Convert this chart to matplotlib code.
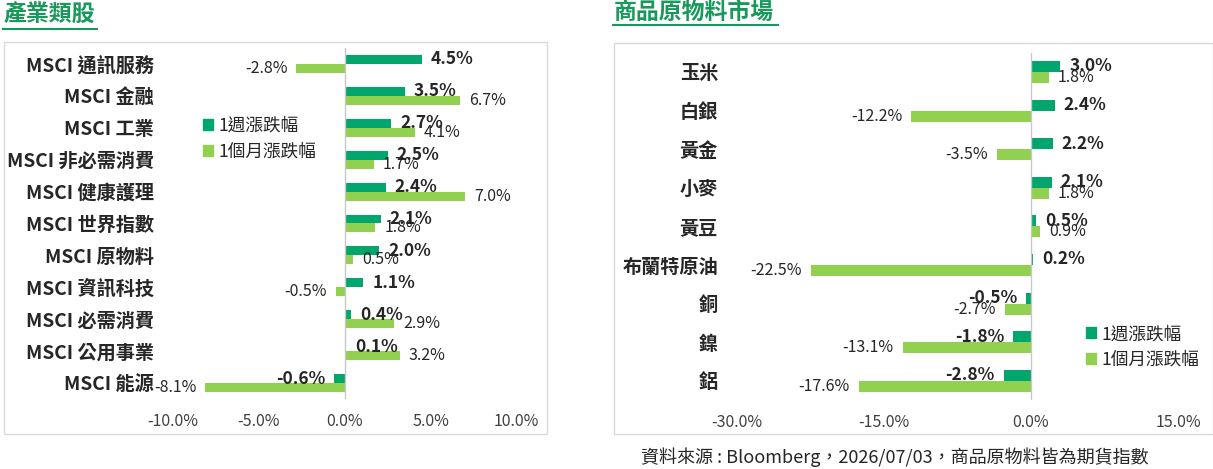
import numpy as np
import matplotlib
matplotlib.use('Agg')
import matplotlib.pyplot as plt
from matplotlib.patches import Rectangle, Patch
from matplotlib.lines import Line2D

plt.rcParams['font.family'] = ['Noto Sans CJK TC', 'DejaVu Sans']

# Data - industry sectors
sectors = ['MSCI 通訊服務', 'MSCI 金融', 'MSCI 工業', 'MSCI 非必需消費', 'MSCI 健康護理',
           'MSCI 世界指數', 'MSCI 原物料', 'MSCI 資訊科技', 'MSCI 必需消費',
           'MSCI 公用事業', 'MSCI 能源']
sector_week = [4.5, 3.5, 2.7, 2.5, 2.4, 2.1, 2.0, 1.1, 0.4, 0.1, -0.6]
sector_month = [-2.8, 6.7, 4.1, 1.7, 7.0, 1.8, 0.5, -0.5, 2.9, 3.2, -8.1]
sector_ticks = [-10, -5, 0, 5, 10]

# Data - commodities
commods = ['玉米', '白銀', '黃金', '小麥', '黃豆', '布蘭特原油', '銅', '鎳', '鋁']
commod_week = [3.0, 2.4, 2.2, 2.1, 0.5, 0.2, -0.5, -1.8, -2.8]
commod_month = [1.8, -12.2, -3.5, 1.8, 0.9, -22.5, -2.7, -13.1, -17.6]
commod_ticks = [-30, -15, 0, 15]

series_names = ['1週漲跌幅', '1個月漲跌幅']
dark_green = '#00A66B'
light_green = '#92D050'
title_green = '#17995B'
text_dark = '#262626'

W, H = 1213, 469
fig = plt.figure(figsize=(W / 100, H / 100), dpi=100)


def px_rect(x0, y0, x1, y1):
    return [x0 / W, 1 - y1 / H, (x1 - x0) / W, (y1 - y0) / H]


def draw_panel(rect, cats, week, month, ticks, xlim, bar_h, ypad):
    ax = fig.add_axes(rect)
    y = np.arange(len(cats))
    ax.barh(y - bar_h / 2, week, height=bar_h, color=dark_green, label=series_names[0])
    ax.barh(y + bar_h / 2, month, height=bar_h, color=light_green, label=series_names[1])
    ax.axvline(0, color='#C8C8C8', lw=1, zorder=3)
    gap = 6.5
    for yy, v in zip(y, week):
        off = gap if v >= 0 else -gap
        ax.annotate(f'{v:.1f}%', xy=(v, yy - bar_h / 2), xytext=(off, 0),
                    textcoords='offset points', ha='left' if v >= 0 else 'right',
                    va='center', fontsize=12.5, fontweight='bold', color=text_dark)
    for yy, v in zip(y, month):
        off = gap if v >= 0 else -gap
        ax.annotate(f'{v:.1f}%', xy=(v, yy + bar_h / 2), xytext=(off, 0),
                    textcoords='offset points', ha='left' if v >= 0 else 'right',
                    va='center', fontsize=11.5, color=text_dark)
    ax.set_xlim(*xlim)
    ax.set_ylim(len(cats) - 0.5, -0.5)
    ax.set_xticks(ticks)
    ax.set_xticklabels([f'{t:.1f}%' for t in ticks], fontsize=11.5, color='#404040')
    ax.set_yticks(y)
    ax.set_yticklabels(cats, fontsize=13.8, fontweight='bold', color=text_dark)
    ax.tick_params(axis='x', length=0, pad=10)
    ax.tick_params(axis='y', length=0, pad=ypad)
    for s in ax.spines.values():
        s.set_visible(False)
    return ax


ax1 = draw_panel(px_rect(172.5, 48, 516.5, 399), sectors, sector_week, sector_month,
                 sector_ticks, (-10, 10), 0.28, 13.3)
ax2 = draw_panel(px_rect(737, 52.7, 1178, 400), commods, commod_week, commod_month,
                 commod_ticks, (-30, 15), 0.285, 13.7)

# legends
handles = [Patch(color=dark_green), Patch(color=light_green)]
for anchor in [(203 / W, 1 - 138.75 / H), (1086 / W, 1 - 347 / H)]:
    fig.legend(handles, series_names, loc='center left', bbox_to_anchor=anchor,
               frameon=False, fontsize=12.7, handlelength=0.57, handleheight=0.57,
               handletextpad=0.3, labelspacing=0.45, borderpad=0, borderaxespad=0,
               labelcolor=text_dark)

# panel borders
for x0, y0, x1, y1 in [(3.5, 42, 547, 434), (613.5, 43, 1212.5, 434)]:
    fig.patches.append(Rectangle((x0 / W, 1 - y1 / H), (x1 - x0) / W, (y1 - y0) / H,
                                 transform=fig.transFigure, fill=False,
                                 edgecolor='#D9D9D9', lw=1))

# titles with underline
fig.text(4 / W, 1 - 14.5 / H, '產業類股', fontsize=16.5, fontweight='bold',
         color=title_green, va='center', ha='left')
fig.add_artist(Line2D([3 / W, 97 / W], [1 - 29 / H, 1 - 29 / H], color=title_green, lw=1.5))
fig.text(614 / W, 1 - 12.5 / H, '商品原物料市場', fontsize=16.5, fontweight='bold',
         color=title_green, va='center', ha='left')
fig.add_artist(Line2D([613 / W, 778 / W], [1 - 25.5 / H, 1 - 25.5 / H], color=title_green, lw=1.5))

# source note
fig.text(895 / W, 1 - 457 / H, '資料來源 : Bloomberg，2026/07/03，商品原物料皆為期貨指數',
         fontsize=13, color=text_dark, ha='center', va='center')

fig.savefig('out.png', dpi=100)
